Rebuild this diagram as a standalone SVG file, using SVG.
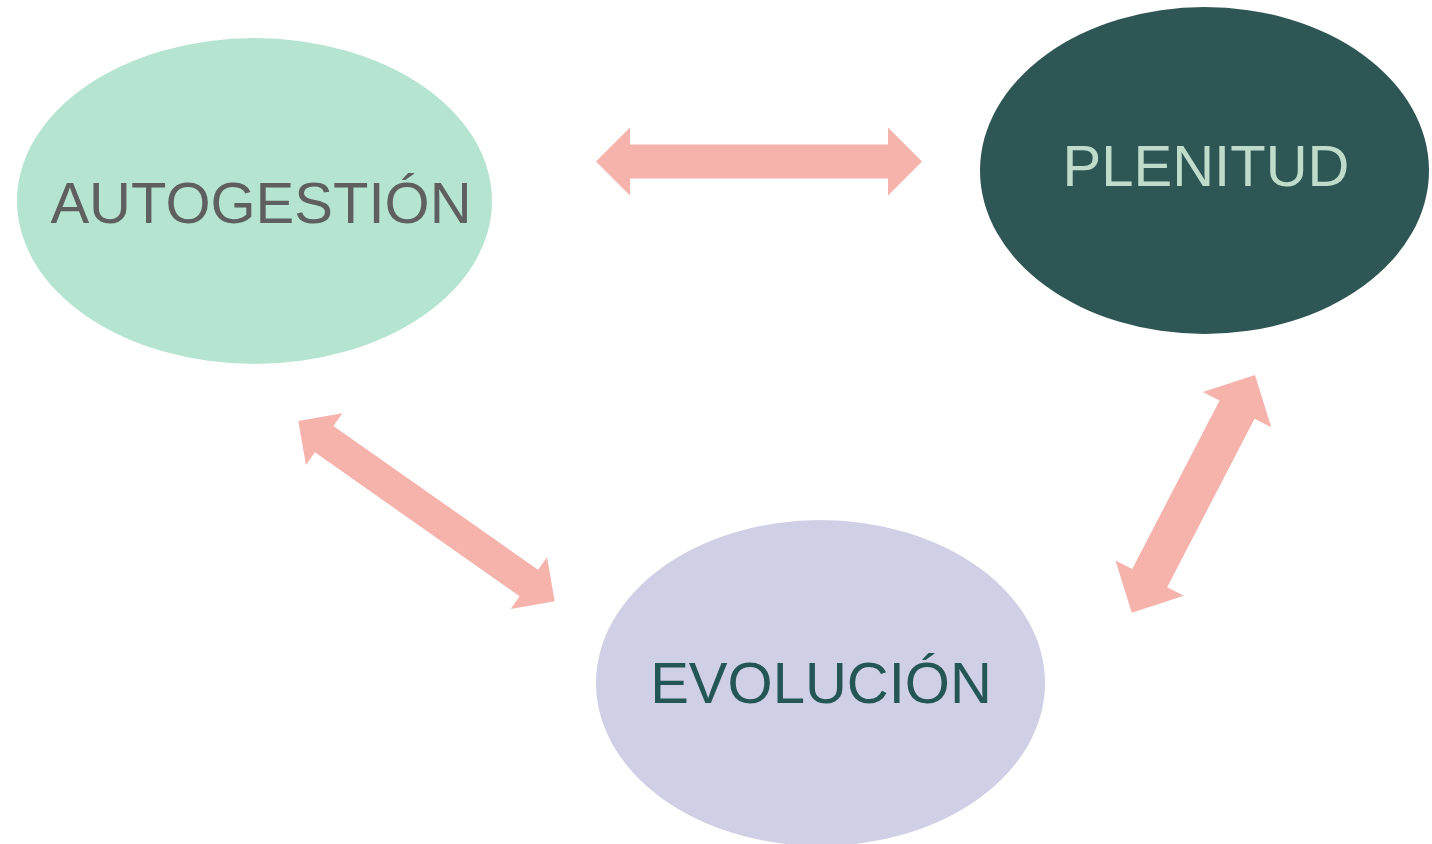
<svg xmlns="http://www.w3.org/2000/svg" width="1432" height="844" viewBox="0 0 1432 844">
<style>
.lbl{font-family:"Liberation Sans",Arial,sans-serif;font-size:58px;text-anchor:middle}
.arrow{fill:#f6b3ab}
</style>
<rect width="1432" height="844" fill="#ffffff"/>
<g id="node-autogestion">
<ellipse cx="254.5" cy="201" rx="237.5" ry="163" fill="#b5e5d0"/>
<text class="lbl" x="261" y="223.3" fill="#5f5f5f">AUTOGESTIÓN</text>
</g>
<g id="node-plenitud">
<ellipse cx="1204.5" cy="170.5" rx="224.5" ry="163.5" fill="#2e5654"/>
<text class="lbl" x="1206" y="186" fill="#bfdccb">PLENITUD</text>
</g>
<g id="node-evolucion">
<ellipse cx="820.5" cy="683" rx="224.5" ry="163" fill="#cfcfe6"/>
<text class="lbl" x="821" y="703.3" fill="#235654">EVOLUCIÓN</text>
</g>
<g id="connectors">
<polygon class="arrow" transform="translate(596 161.5)" points="0,0 34,-34 34,-17 292,-17 292,-34 326,0 292,34 292,17 34,17 34,34"/>
<polygon class="arrow" transform="translate(298.3 421) rotate(35.1)" points="0,0 31.6,-31.6 31.6,-16.1 281.8,-16.1 281.8,-31.6 313.4,0 281.8,31.6 281.8,16.1 31.6,16.1 31.6,31.6"/>
<polygon class="arrow" transform="translate(1255 375) rotate(117.4)" points="0,0 39,-38.5 39,-19.7 228.8,-19.7 228.8,-38.5 267.8,0 228.8,38.5 228.8,19.7 39,19.7 39,38.5"/>
</g>
</svg>
